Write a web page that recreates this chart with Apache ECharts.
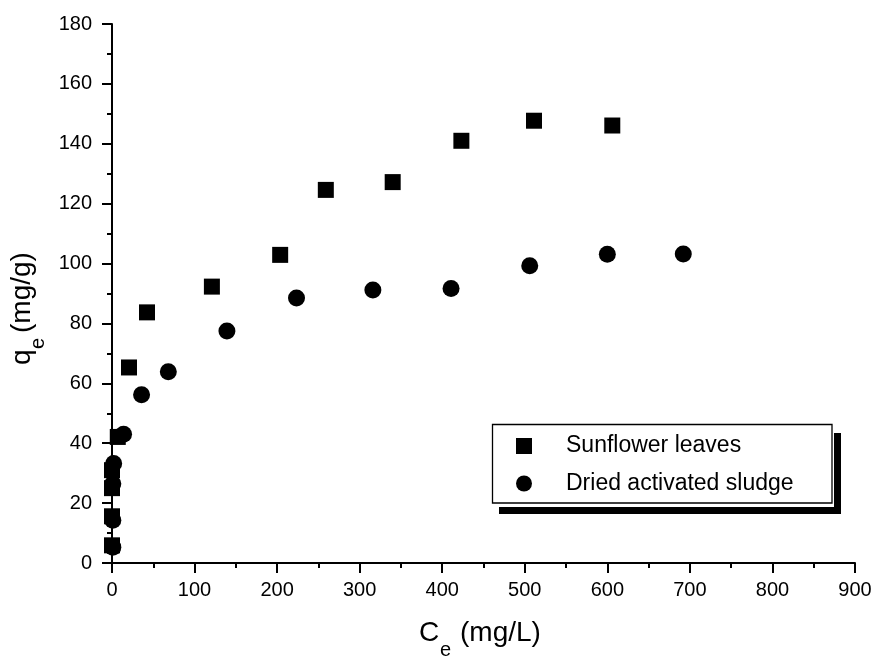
<!DOCTYPE html>
<html>
<head>
<meta charset="utf-8">
<title>Adsorption isotherms</title>
<script src="https://cdn.jsdelivr.net/npm/echarts@6/dist/echarts.min.js"></script>
<style>
  html, body { margin: 0; padding: 0; background: #fff; }
  #chart { width: 875px; height: 656px; }
</style>
</head>
<body>
<div id="chart"></div>
<script>
// Equilibrium concentration Ce (mg/L) and uptake qe (mg/g)
const sunflowerCe = [0, 0, 0, 0, 7, 20.6, 42.4, 121, 203.7, 259, 340, 423.2, 511.2, 606];
const sunflowerQe = [5.9, 15.6, 25, 31, 42.1, 65.3, 83.7, 92.3, 102.9, 124.6, 127.2, 141, 147.7, 146.1];

const sludgeCe = [1, 1, 1, 2, 14, 35.8, 68.2, 139.2, 223.5, 316, 410.7, 506, 600, 692];
const sludgeQe = [5.3, 14.3, 26.5, 33.2, 43, 56.2, 63.9, 77.5, 88.5, 91.2, 91.7, 99.3, 103.1, 103.2];

const seriesNames = ['Sunflower leaves', 'Dried activated sludge'];

const xRange = { min: 0, max: 900, step: 100 };
const yRange = { min: 0, max: 180, step: 20 };

const FONT = '"Liberation Sans", Arial, Helvetica, sans-serif';

function pairs(xs, ys) {
  return xs.map((x, i) => [x, ys[i]]);
}

const axisCommon = {
  axisLine: { show: true, onZero: false, lineStyle: { color: '#000', width: 2 } },
  axisTick: { show: true, inside: false, length: 10, lineStyle: { color: '#000', width: 2 } },
  minorTick: { show: true, splitNumber: 2, length: 5, lineStyle: { color: '#000', width: 2 } },
  splitLine: { show: false },
  minorSplitLine: { show: false },
  axisLabel: { color: '#000', fontSize: 20, fontFamily: FONT, showMinLabel: true, showMaxLabel: true }
};

const chart = echarts.init(document.getElementById('chart'), null, { renderer: 'canvas' });

chart.setOption({
  animation: false,
  backgroundColor: '#fff',
  grid: { left: 112, right: 20, top: 24, bottom: 93, containLabel: false },
  xAxis: Object.assign({}, axisCommon, {
    type: 'value',
    min: xRange.min, max: xRange.max, interval: xRange.step,
    axisLabel: Object.assign({}, axisCommon.axisLabel, { margin: 17 })
  }),
  yAxis: Object.assign({}, axisCommon, {
    type: 'value',
    min: yRange.min, max: yRange.max, interval: yRange.step,
    axisLabel: Object.assign({}, axisCommon.axisLabel, { margin: 20 })
  }),
  legend: {
    show: true,
    orient: 'vertical',
    left: 516,
    top: 433,
    padding: 0,
    itemWidth: 16,
    itemHeight: 16,
    itemGap: 11.5,
    selectedMode: false,
    z: 10,
    itemStyle: { opacity: 1 },
    textStyle: { color: '#000', fontSize: 23, fontFamily: FONT, lineHeight: 26, padding: [0, 0, 0, 29] },
    data: seriesNames
  },
  graphic: [
    // legend frame with its offset drop shadow
    { type: 'rect', z: 1, shape: { x: 499, y: 433, width: 342, height: 81 }, style: { fill: '#000' } },
    { type: 'rect', z: 2, shape: { x: 490, y: 422, width: 344, height: 85 }, style: { fill: '#fff' } },
    { type: 'rect', z: 3, shape: { x: 492.5, y: 424.5, width: 339.5, height: 78.5 }, style: { fill: '#fff', stroke: '#000', lineWidth: 1.3 } },
    // x axis title: Ce (mg/L)
    { type: 'text', z: 5, x: 419, y: 633, style: { text: 'C', fontSize: 28, fontFamily: FONT, fill: '#000', align: 'left', verticalAlign: 'middle' } },
    { type: 'text', z: 5, x: 440, y: 650, style: { text: 'e', fontSize: 20, fontFamily: FONT, fill: '#000', align: 'left', verticalAlign: 'middle' } },
    { type: 'text', z: 5, x: 460, y: 633, style: { text: '(mg/L)', fontSize: 28, fontFamily: FONT, fill: '#000', align: 'left', verticalAlign: 'middle' } },
    // y axis title: qe (mg/g), rotated
    { type: 'text', z: 5, x: 22, y: 365, rotation: Math.PI / 2, style: { text: 'q', fontSize: 28, fontFamily: FONT, fill: '#000', align: 'left', verticalAlign: 'middle' } },
    { type: 'text', z: 5, x: 38, y: 349, rotation: Math.PI / 2, style: { text: 'e', fontSize: 20, fontFamily: FONT, fill: '#000', align: 'left', verticalAlign: 'middle' } },
    { type: 'text', z: 5, x: 22, y: 333, rotation: Math.PI / 2, style: { text: '(mg/g)', fontSize: 28, fontFamily: FONT, fill: '#000', align: 'left', verticalAlign: 'middle' } }
  ],
  series: [
    {
      name: seriesNames[0],
      type: 'scatter',
      symbol: 'rect',
      symbolSize: 16,
      itemStyle: { color: '#000', opacity: 1 },
      data: pairs(sunflowerCe, sunflowerQe)
    },
    {
      name: seriesNames[1],
      type: 'scatter',
      symbol: 'circle',
      symbolSize: 17,
      itemStyle: { color: '#000', opacity: 1 },
      data: pairs(sludgeCe, sludgeQe)
    }
  ]
});
</script>
</body>
</html>
